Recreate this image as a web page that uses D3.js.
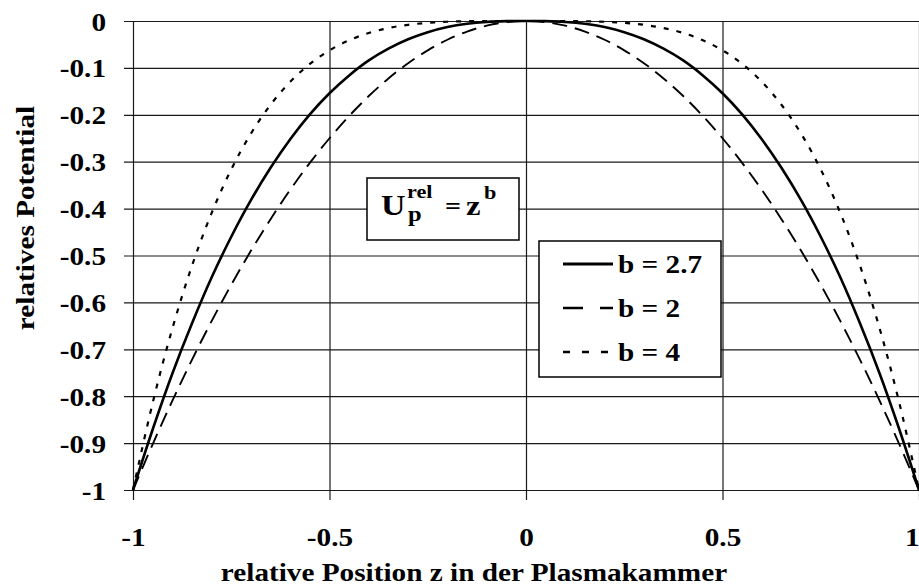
<!DOCTYPE html>
<html>
<head>
<meta charset="utf-8">
<script src="https://cdn.jsdelivr.net/npm/d3@7"></script>
<style>
  html, body { margin: 0; padding: 0; background: #fff; }
  svg { display: block; }
  text { font-family: "Liberation Serif", "Times New Roman", serif; font-weight: bold; fill: #000; }
</style>
</head>
<body>
<svg id="chart" width="919" height="587"></svg>
<script>
// relative position z across the chamber
const positions = [-1, -0.95, -0.9, -0.85, -0.8, -0.75, -0.7, -0.65, -0.6, -0.55, -0.5,
  -0.45, -0.4, -0.35, -0.3, -0.25, -0.2, -0.15, -0.1, -0.05, 0,
  0.05, 0.1, 0.15, 0.2, 0.25, 0.3, 0.35, 0.4, 0.45, 0.5,
  0.55, 0.6, 0.65, 0.7, 0.75, 0.8, 0.85, 0.9, 0.95, 1];

// relative potential for exponent b = 2.7
const potentialB27 = [-1, -0.871, -0.752, -0.645, -0.547, -0.46, -0.382, -0.313, -0.252, -0.199, -0.154,
  -0.116, -0.084, -0.059, -0.039, -0.024, -0.013, -0.006, -0.002, -0.0003, 0,
  -0.0003, -0.002, -0.006, -0.013, -0.024, -0.039, -0.059, -0.084, -0.116, -0.154,
  -0.199, -0.252, -0.313, -0.382, -0.46, -0.547, -0.645, -0.752, -0.871, -1];

// relative potential for exponent b = 2
const potentialB2 = [-1, -0.9025, -0.81, -0.7225, -0.64, -0.5625, -0.49, -0.4225, -0.36, -0.3025, -0.25,
  -0.2025, -0.16, -0.1225, -0.09, -0.0625, -0.04, -0.0225, -0.01, -0.0025, 0,
  -0.0025, -0.01, -0.0225, -0.04, -0.0625, -0.09, -0.1225, -0.16, -0.2025, -0.25,
  -0.3025, -0.36, -0.4225, -0.49, -0.5625, -0.64, -0.7225, -0.81, -0.9025, -1];

// relative potential for exponent b = 4
const potentialB4 = [-1, -0.8145, -0.6561, -0.522, -0.4096, -0.3164, -0.2401, -0.1785, -0.1296, -0.0915, -0.0625,
  -0.041, -0.0256, -0.015, -0.0081, -0.0039, -0.0016, -0.0005, -0.0001, 0, 0,
  0, -0.0001, -0.0005, -0.0016, -0.0039, -0.0081, -0.015, -0.0256, -0.041, -0.0625,
  -0.0915, -0.1296, -0.1785, -0.2401, -0.3164, -0.4096, -0.522, -0.6561, -0.8145, -1];

const seriesLabels = ["b = 2.7", "b = 2", "b = 4"];
const xTicks = [-1, -0.5, 0, 0.5, 1];
const yTicks = [0, -0.1, -0.2, -0.3, -0.4, -0.5, -0.6, -0.7, -0.8, -0.9, -1];
const xTickLabels = ["-1", "-0.5", "0", "0.5", "1"];
const yTickLabels = ["0", "-0.1", "-0.2", "-0.3", "-0.4", "-0.5", "-0.6", "-0.7", "-0.8", "-0.9", "-1"];

const svg = d3.select("#chart");
const plotLeft = 133, plotRight = 919, plotTop = 21, plotBottom = 490;
const FONT = 25;      // type size of all labels
const WIDEN = 1.17;   // horizontal widening of the bold serif lettering

// place a widened text at (px, py)
function wideText(parent, px, py, str, size, anchor, extra) {
  return parent.append("text")
    .attr("transform", `translate(${px},${py})${extra || ""} scale(${WIDEN},1)`)
    .attr("font-size", size)
    .attr("text-anchor", anchor || "start")
    .text(str);
}

const x = d3.scaleLinear().domain([-1, 1]).range([plotLeft, plotRight]);
const y = d3.scaleLinear().domain([-1, 0]).range([plotBottom, plotTop]);

// horizontal gridlines with tick stubs reaching left of the axis
const yAxis = d3.axisLeft(y)
  .tickValues(yTicks)
  .tickSize(-(plotRight - plotLeft) - 9)
  .tickFormat((d, i) => yTickLabels[i]);
const gy = svg.append("g").attr("transform", `translate(${plotLeft - 9},0)`).call(yAxis);
gy.select(".domain").remove();
gy.selectAll(".tick line").attr("stroke", "#1a1a1a").attr("stroke-width", 1.2);
gy.selectAll(".tick text")
  .attr("x", 0).attr("dy", 0)
  .attr("font-size", FONT)
  .attr("text-anchor", "end")
  .attr("transform", `translate(-18,9) scale(${WIDEN},1)`);

// vertical gridlines extending below the plot as tick stubs
const xAxis = d3.axisBottom(x)
  .tickValues(xTicks)
  .tickSize(-(plotBottom - plotTop) - 10)
  .tickFormat((d, i) => xTickLabels[i]);
const gx = svg.append("g").attr("transform", `translate(0,${plotBottom + 10})`).call(xAxis);
gx.select(".domain").remove();
gx.selectAll(".tick line").attr("stroke", "#1a1a1a").attr("stroke-width", 1.2);
gx.selectAll(".tick text")
  .attr("y", 0).attr("dy", 0)
  .attr("font-size", FONT)
  .attr("text-anchor", (d, i) => i === xTicks.length - 1 ? "end" : "middle")
  .attr("transform", `translate(0,46) scale(${WIDEN},1)`);

// curves
const rows = positions.map((z, i) => ({ z, a: potentialB27[i], b: potentialB2[i], c: potentialB4[i] }));
const series = [
  { key: "a", dash: null, width: 2.6, keyDash: null },
  { key: "b", dash: "15,8", width: 1.9, keyDash: "20,17,13" },
  { key: "c", dash: "5,8", width: 2.2, keyDash: "7,12" }
];
series.forEach(s => {
  const line = d3.line().x(d => x(d.z)).y(d => y(d[s.key])).curve(d3.curveCatmullRom);
  svg.append("path").datum(rows).attr("d", line)
    .attr("fill", "none").attr("stroke", "#000")
    .attr("stroke-width", s.width)
    .attr("stroke-dasharray", s.dash);
});

// formula box: U_p^rel = z^b
svg.append("rect").attr("x", 367).attr("y", 178).attr("width", 152).attr("height", 62)
  .attr("fill", "#fff").attr("stroke", "#000").attr("stroke-width", 1.5);
const ft = svg.append("g");
wideText(ft, 381, 215, "U", 29);
wideText(ft, 407, 198, "rel", 19);
wideText(ft, 408, 221, "p", 21);
wideText(ft, 445, 214, "=", 24);
wideText(ft, 466, 215, "z", 28);
wideText(ft, 484, 199, "b", 19);

// legend
svg.append("rect").attr("x", 539).attr("y", 241).attr("width", 182).attr("height", 136)
  .attr("fill", "#fff").attr("stroke", "#000").attr("stroke-width", 1.5);
const legendY = [264, 308, 352];
const lg = svg.append("g");
series.forEach((s, i) => {
  lg.append("line").attr("x1", 563).attr("x2", 613)
    .attr("y1", legendY[i]).attr("y2", legendY[i])
    .attr("stroke", "#000").attr("stroke-width", s.width + 0.5)
    .attr("stroke-dasharray", s.keyDash);
  wideText(lg, 618, legendY[i] + 9, seriesLabels[i], FONT);
});

// axis titles
wideText(svg, 474, 581, "relative Position z in der Plasmakammer", FONT, "middle");
wideText(svg, 34, 218, "relatives Potential", FONT, "middle", " rotate(-90)");
</script>
</body>
</html>
